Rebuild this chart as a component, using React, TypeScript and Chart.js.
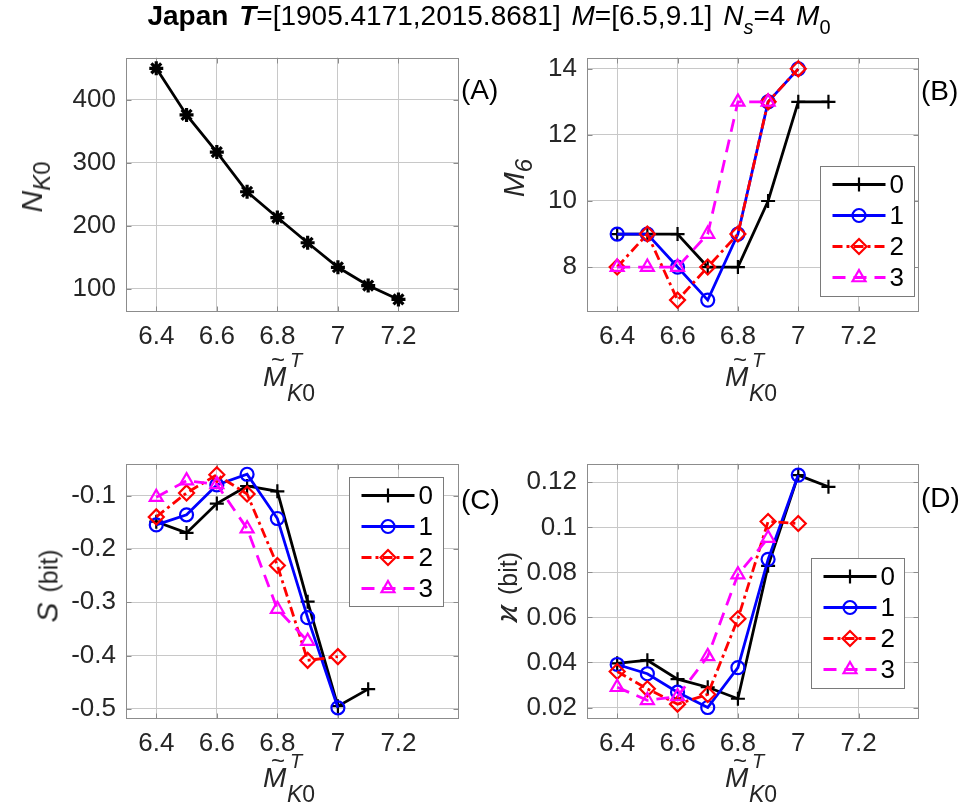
import React, { useEffect, useRef } from 'react';
import { Chart, registerables } from 'chart.js';
Chart.register(...registerables);

const FONT = '"Liberation Sans", Arial, Helvetica, sans-serif';
const TEXT = '#262626';
const GRID = '#c8c8c8';
const BOX = '#8c8c8c';

// ---------------- data ----------------
const xTicks = [6.4, 6.6, 6.8, 7, 7.2];
const xRange = [6.3, 7.4];

// (A)
const magA = [6.4, 6.5, 6.6, 6.7, 6.8, 6.9, 7.0, 7.1, 7.2];
const nK0 = [450, 376, 317, 254, 213, 173, 134, 105, 83];
const yTicksA = [100, 200, 300, 400];

const seriesNames = ['0', '1', '2', '3'];
const magB = [6.4, 6.5, 6.6, 6.7, 6.8, 6.9, 7.0, 7.1];

// (B) M6
const m6Series0 = [9, 9, 9, 8, 8, 10, 13, 13];
const m6Series1 = [9, 9, 8, 7, 9, 13, 14];
const m6Series2 = [8, 9, 7, 8, 9, 13, 14];
const m6Series3 = [8, 8, 8, 9, 13, 13];
const yTicksB = [8, 10, 12, 14];

// (C) S (bit)
const sSeries0 = [-0.149, -0.170, -0.115, -0.082, -0.092, -0.299, -0.495, -0.463];
const sSeries1 = [-0.155, -0.136, -0.080, -0.060, -0.143, -0.329, -0.498];
const sSeries2 = [-0.140, -0.095, -0.061, -0.097, -0.231, -0.409, -0.402];
const sSeries3 = [-0.103, -0.072, -0.079, -0.162, -0.313, -0.373];
const yTicksC = [-0.5, -0.4, -0.3, -0.2, -0.1];

// (D) kappa (bit)
const kSeries0 = [0.0396, 0.041, 0.0326, 0.029, 0.0239, 0.0829, 0.1232, 0.118];
const kSeries1 = [0.0391, 0.035, 0.0268, 0.020, 0.0377, 0.0858, 0.1232];
const kSeries2 = [0.036, 0.0283, 0.0215, 0.0258, 0.0594, 0.1026, 0.1017];
const kSeries3 = [0.029, 0.0232, 0.0249, 0.0427, 0.079, 0.0952];
const yTicksD = [0.02, 0.04, 0.06, 0.08, 0.1, 0.12];

// ---------------- styles ----------------
type Style = { color: string; dash: number[]; point: string; radius: number };
const STYLES: Style[] = [
  { color: '#000000', dash: [], point: 'cross', radius: 7 },
  { color: '#0000ff', dash: [], point: 'circle', radius: 6.5 },
  { color: '#ff0000', dash: [10, 4, 3, 4], point: 'rectRot', radius: 7.5 },
  { color: '#ff00ff', dash: [13, 8], point: 'triangle', radius: 7.5 },
];
const STYLE_A: Style = { color: '#000000', dash: [], point: 'star', radius: 7 };

const PAD_T = 20;
const PAD_R = 20;
const AX_W = 90;
const AX_H = 50;
const TICK_SIZE = 26;
const LINE_W = 2.8;

const fmt = (v: number) => String(Math.round(v * 10000) / 10000);

function drawMarker(ctx: CanvasRenderingContext2D, kind: string, x: number, y: number, r: number) {
  ctx.beginPath();
  if (kind === 'cross') {
    ctx.moveTo(x - r, y); ctx.lineTo(x + r, y);
    ctx.moveTo(x, y - r); ctx.lineTo(x, y + r);
  } else if (kind === 'circle') {
    ctx.arc(x, y, r, 0, Math.PI * 2);
  } else if (kind === 'rectRot') {
    ctx.moveTo(x, y - r); ctx.lineTo(x + r, y); ctx.lineTo(x, y + r); ctx.lineTo(x - r, y); ctx.closePath();
  } else if (kind === 'triangle') {
    ctx.moveTo(x, y - r); ctx.lineTo(x + r * 0.866, y + r * 0.5); ctx.lineTo(x - r * 0.866, y + r * 0.5); ctx.closePath();
  }
  ctx.stroke();
}

const boxPlugin = {
  id: 'matlabBox',
  beforeDatasetsDraw(chart: any) {
    const { ctx, chartArea: a, scales } = chart;
    ctx.save();
    ctx.strokeStyle = BOX;
    ctx.lineWidth = 1;
    const L = Math.round(a.left) + 0.5, R = Math.round(a.right) - 0.5;
    const T = Math.round(a.top) + 0.5, B = Math.round(a.bottom) - 0.5;
    ctx.strokeRect(L, T, R - L, B - T);
    const tl = 5;
    ctx.beginPath();
    scales.x.ticks.forEach((t: any) => {
      const px = Math.round(scales.x.getPixelForValue(t.value)) + 0.5;
      ctx.moveTo(px, B); ctx.lineTo(px, B - tl);
      ctx.moveTo(px, T); ctx.lineTo(px, T + tl);
    });
    scales.y.ticks.forEach((t: any) => {
      const py = Math.round(scales.y.getPixelForValue(t.value)) + 0.5;
      ctx.moveTo(L, py); ctx.lineTo(L + tl, py);
      ctx.moveTo(R, py); ctx.lineTo(R - tl, py);
    });
    ctx.stroke();
    ctx.restore();
  },
};

type LegendSpec = { dx: number; dy: number; w: number; h: number };

function makeLegendPlugin(spec: LegendSpec) {
  return {
    id: 'matlabLegend',
    afterDatasetsDraw(chart: any) {
      const { ctx, chartArea: a } = chart;
      const x0 = Math.round(a.left + spec.dx) + 0.5;
      const y0 = Math.round(a.top + spec.dy) + 0.5;
      ctx.save();
      ctx.fillStyle = '#ffffff';
      ctx.fillRect(x0, y0, spec.w, spec.h);
      ctx.strokeStyle = '#7a7a7a';
      ctx.lineWidth = 1;
      ctx.strokeRect(x0, y0, spec.w, spec.h);
      seriesNames.forEach((name, i) => {
        const st = STYLES[i];
        const cy = y0 + 18 + 31 * i;
        ctx.strokeStyle = st.color;
        ctx.lineWidth = LINE_W;
        ctx.setLineDash(st.dash);
        ctx.beginPath();
        ctx.moveTo(x0 + 12, cy);
        ctx.lineTo(x0 + 65, cy);
        ctx.stroke();
        ctx.setLineDash([]);
        ctx.lineWidth = 2.2;
        drawMarker(ctx, st.point, x0 + 38.5, cy, st.radius);
        ctx.fillStyle = '#000000';
        ctx.font = `${TICK_SIZE}px ${FONT}`;
        ctx.textBaseline = 'middle';
        ctx.textAlign = 'left';
        ctx.fillText(name, x0 + 69, cy + 1);
      });
      ctx.restore();
    },
  };
}

function makeDataset(label: string, xs: number[], ys: number[], st: Style, order: number) {
  return {
    label,
    data: ys.map((v, j) => ({ x: xs[j], y: v })),
    borderColor: st.color,
    backgroundColor: st.color,
    borderWidth: LINE_W,
    borderDash: st.dash,
    pointStyle: st.point,
    pointRadius: st.radius,
    pointHoverRadius: st.radius,
    pointBorderWidth: st.point === 'star' ? 3.2 : 2.2,
    pointBorderColor: st.color,
    pointBackgroundColor: 'rgba(0,0,0,0)',
    tension: 0,
    fill: false,
    clip: false,
    order,
  };
}

type PanelSpec = {
  box: { l: number; t: number; r: number; b: number };
  yRange: number[];
  yTicks: number[];
  datasets: any[];
  legend?: LegendSpec;
};

function ChartPanel({ spec }: { spec: PanelSpec }) {
  const ref = useRef<HTMLCanvasElement>(null);
  const { l, t, r, b } = spec.box;
  const width = r - l + AX_W + PAD_R;
  const height = b - t + PAD_T + AX_H;
  useEffect(() => {
    if (!ref.current) return;
    const plugins: any[] = [boxPlugin];
    if (spec.legend) plugins.push(makeLegendPlugin(spec.legend));
    const tickFont = { size: TICK_SIZE, family: FONT };
    const chart = new Chart(ref.current, {
      type: 'line',
      data: { datasets: spec.datasets },
      plugins,
      options: {
        responsive: false,
        animation: false,
        events: [],
        layout: { padding: { top: PAD_T, right: PAD_R, left: 0, bottom: 0 } },
        plugins: { legend: { display: false }, tooltip: { enabled: false } },
        scales: {
          x: {
            type: 'linear',
            min: xRange[0],
            max: xRange[1],
            afterBuildTicks: (s: any) => { s.ticks = xTicks.map((v) => ({ value: v })); },
            afterFit: (s: any) => { s.height = AX_H; },
            grid: { color: GRID, lineWidth: 1, drawTicks: false },
            border: { display: false },
            ticks: { padding: 9, color: TEXT, font: tickFont, maxRotation: 0, autoSkip: false, callback: (v: any) => fmt(Number(v)) },
          },
          y: {
            type: 'linear',
            min: spec.yRange[0],
            max: spec.yRange[1],
            afterBuildTicks: (s: any) => { s.ticks = spec.yTicks.map((v) => ({ value: v })); },
            afterFit: (s: any) => { s.width = AX_W; },
            grid: { color: GRID, lineWidth: 1, drawTicks: false },
            border: { display: false },
            ticks: { padding: 10, color: TEXT, font: tickFont, autoSkip: false, callback: (v: any) => fmt(Number(v)) },
          },
        },
      } as any,
    } as any);
    return () => chart.destroy();
  }, []);
  return (
    <canvas
      ref={ref}
      width={width}
      height={height}
      style={{ position: 'absolute', left: l - AX_W, top: t - PAD_T, width, height }}
    />
  );
}

function multi(xs: number[], ys: number[][]) {
  return ys.map((y, i) => makeDataset(seriesNames[i], xs, y, STYLES[i], ys.length - i));
}

const panels: PanelSpec[] = [
  {
    box: { l: 126, t: 52, r: 459, b: 312 },
    yRange: [63, 467],
    yTicks: yTicksA,
    datasets: [makeDataset('N', magA, nK0, STYLE_A, 0)],
  },
  {
    box: { l: 587, t: 52, r: 919, b: 312 },
    yRange: [6.64, 14.34],
    yTicks: yTicksB,
    datasets: multi(magB, [m6Series0, m6Series1, m6Series2, m6Series3]),
    legend: { dx: 233, dy: 108, w: 94, h: 130 },
  },
  {
    box: { l: 126, t: 458, r: 459, b: 719 },
    yRange: [-0.519, -0.04],
    yTicks: yTicksC,
    datasets: multi(magB, [sSeries0, sSeries1, sSeries2, sSeries3]),
    legend: { dx: 223, dy: 13, w: 94, h: 129 },
  },
  {
    box: { l: 587, t: 458, r: 919, b: 719 },
    yRange: [0.0149, 0.1283],
    yTicks: yTicksD,
    datasets: multi(magB, [kSeries0, kSeries1, kSeries2, kSeries3]),
    legend: { dx: 224, dy: 94, w: 93, h: 130 },
  },
];

const abs = (left: number, top: number, extra: React.CSSProperties = {}): React.CSSProperties => ({
  position: 'absolute', left, top, fontFamily: FONT, color: TEXT, whiteSpace: 'nowrap', ...extra,
});

function XTitle({ cx, capTop }: { cx: number; capTop: number }) {
  const x0 = cx - 27;
  return (
    <div style={abs(x0, capTop - 20, { width: 60, height: 56 })}>
      <span style={{ position: 'absolute', left: 0, top: 16, fontSize: 28, lineHeight: '28px', fontStyle: 'italic' }}>M</span>
      <span style={{ position: 'absolute', left: 8, top: 1, fontSize: 24, lineHeight: '24px' }}>~</span>
      <span style={{ position: 'absolute', left: 27, top: 3, fontSize: 20, lineHeight: '20px', fontStyle: 'italic' }}>T</span>
      <span style={{ position: 'absolute', left: 24, top: 35, fontSize: 23, lineHeight: '23px' }}><i>K</i>0</span>
    </div>
  );
}

function YTitle({ cx, cy, children }: { cx: number; cy: number; children: React.ReactNode }) {
  return (
    <div style={abs(cx, cy, { transform: 'translate(-50%, -50%) rotate(-90deg)', fontSize: 30, lineHeight: '34px' })}>
      {children}
    </div>
  );
}

const sub: React.CSSProperties = { fontSize: 24, position: 'relative', top: 8 };
const bitStyle: React.CSSProperties = { fontSize: 25, marginLeft: 10 };

export default function App() {
  return (
    <div style={{ position: 'absolute', left: 0, top: 0, width: 966, height: 811, background: '#ffffff', overflow: 'hidden' }}>
      {panels.map((p, i) => <ChartPanel key={i} spec={p} />)}

      <div style={abs(6, 0, { width: 966, textAlign: 'center', fontSize: 28, lineHeight: '32px', color: '#000', wordSpacing: 3 })}>
        <b>Japan</b>{'  '}<b><i>T</i></b>=[1905.4171,2015.8681] <i>M</i>=[6.5,9.1] <i>N</i>
        <span style={{ fontSize: 20, position: 'relative', top: 9, fontStyle: 'italic' }}>s</span>=4 <i>M</i>
        <span style={{ fontSize: 20, position: 'relative', top: 9 }}>0</span>
      </div>

      <div style={abs(461, 76, { fontSize: 28, lineHeight: '28px', color: '#000' })}>(A)</div>
      <div style={abs(921, 77, { fontSize: 28, lineHeight: '28px', color: '#000' })}>(B)</div>
      <div style={abs(461, 486, { fontSize: 28, lineHeight: '28px', color: '#000' })}>(C)</div>
      <div style={abs(921, 484, { fontSize: 28, lineHeight: '28px', color: '#000' })}>(D)</div>

      <YTitle cx={33} cy={187}><i>N</i><span style={sub}><i>K</i>0</span></YTitle>
      <YTitle cx={515} cy={178}><i>M</i><span style={sub}><i>6</i></span></YTitle>
      <YTitle cx={48} cy={586}><i>S</i><span style={bitStyle}>(bit)</span></YTitle>
      <YTitle cx={507} cy={587}><i>ϰ</i><span style={bitStyle}>(bit)</span></YTitle>

      <XTitle cx={290} capTop={367} />
      <XTitle cx={752} capTop={367} />
      <XTitle cx={290} capTop={768} />
      <XTitle cx={752} capTop={768} />
    </div>
  );
}
